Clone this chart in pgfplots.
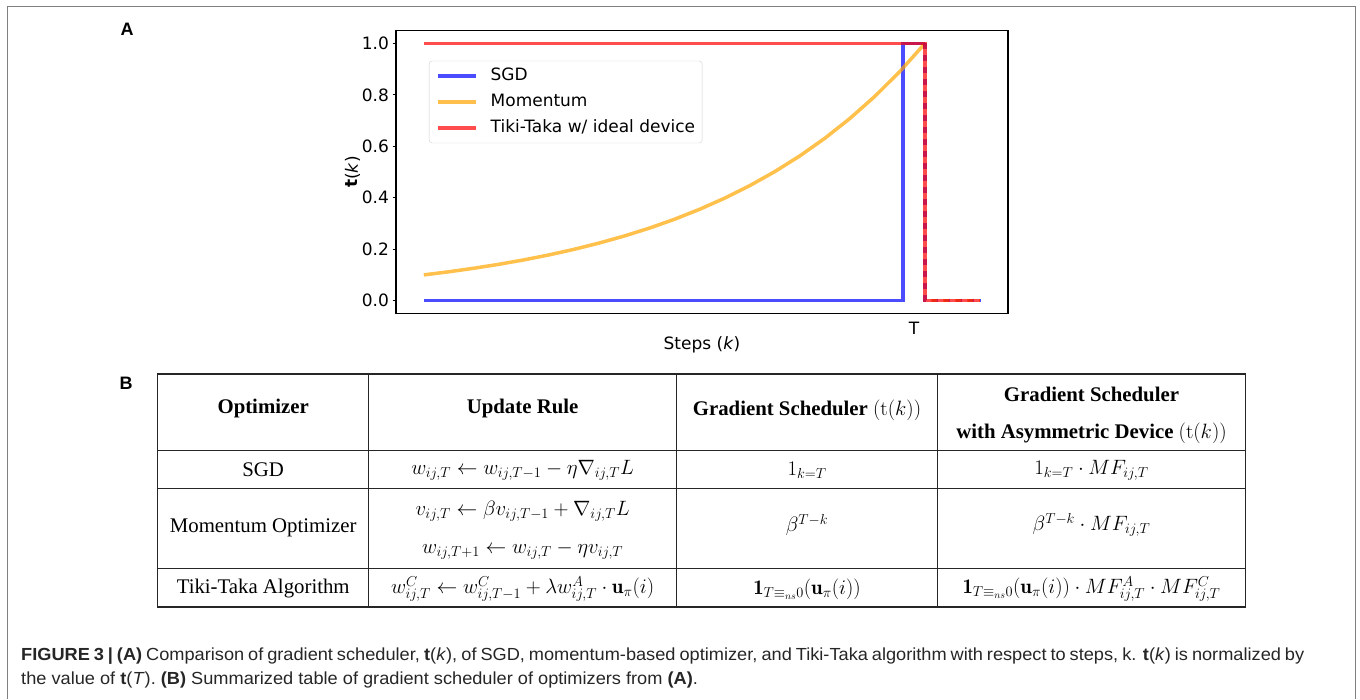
\documentclass[border=0pt]{standalone}
\usepackage{pgfplots}
\pgfplotsset{compat=1.18}
\usepackage{fontspec}
\newfontfamily\dejavu{DejaVu Sans}
\newfontfamily\tabfont{Liberation Serif}
\newfontfamily\capfont[FakeStretch=1.04]{Liberation Sans}
\newfontfamily\panelfont{Liberation Sans}

\definecolor{sgdblue}{RGB}{0,0,255}
\definecolor{momorange}{RGB}{255,165,0}
\definecolor{ttred}{RGB}{255,0,0}
\definecolor{framegray}{RGB}{128,128,128}

% beta^(T-k) with T = 100, normalised so that t(T) = 1
\pgfplotstableread{
k t
0 0.1000
5 0.1122
10 0.1259
15 0.1413
20 0.1585
25 0.1778
30 0.1995
35 0.2239
40 0.2512
45 0.2818
50 0.3162
55 0.3548
60 0.3981
65 0.4467
70 0.5012
75 0.5623
80 0.6310
85 0.7079
90 0.7943
95 0.8913
100 1.0000
}\momentum

\newcommand{\plotfont}{\dejavu\fontsize{17}{20}\selectfont}
\newcommand{\tabfs}{\tabfont\fontsize{20.8}{25}\selectfont}

\begin{document}
\begin{tikzpicture}
\path[use as bounding box] (0pt,0pt) rectangle (1360pt,699pt);

% open frame around the figure
\draw[framegray, line width=1.5pt] (7.7pt,0pt) -- (7.7pt,692.7pt) -- (1355.7pt,692.7pt) -- (1355.7pt,0pt);

% panel letters
\node[font=\panelfont\bfseries\fontsize{18}{20}\selectfont, inner sep=0pt] at (127pt,670pt) {A};
\node[font=\panelfont\bfseries\fontsize{18}{20}\selectfont, inner sep=0pt] at (126pt,316pt) {B};

\begin{axis}[
  at={(396pt,385.5pt)}, anchor=south west,
  scale only axis, width=612pt, height=283pt,
  xmin=-5.55, xmax=116.55, ymin=-0.05, ymax=1.05,
  xtick={97.8}, xticklabels={T},
  xtick style={draw=none},
  ytick={0,0.2,0.4,0.6,0.8,1.0},
  yticklabel style={/pgf/number format/fixed, /pgf/number format/precision=1, /pgf/number format/fixed zerofill},
  /pgf/number format/assume math mode=true,
  tick label style={font=\plotfont},
  xticklabel style={yshift=-2pt},
  tick align=outside, tick pos=left, major tick length=3.5pt,
  ytick style={line width=0.9pt, black},
  axis line style={line width=1.1pt},
  every axis y label/.style={at={(axis description cs:-0.071,0.5)}, rotate=90, anchor=center, font=\plotfont},
  every axis x label/.style={at={(axis description cs:0.5,-0.111)}, anchor=center, font=\plotfont},
  ylabel={{\bfseries t}(\textit{k})},
  xlabel={Steps (\textit{k})},
  legend cell align=left,
  legend image code/.code={\draw[#1, line width=3.5pt] (0pt,0pt) -- (38pt,0pt);},
  legend style={at={(axis description cs:0.0539,0.893)}, anchor=north west,
    draw=black!18, rounded corners=3pt, fill=white, font=\plotfont,
    inner xsep=7pt, inner ysep=7pt, row sep=10pt,
    nodes={inner sep=0pt, text height=12.5pt, text depth=3.5pt},
    /tikz/every odd column/.append style={column sep=13pt}},
]
% SGD: zero until just before T, then one
\addplot[sgdblue, opacity=0.7, line width=3.5pt] coordinates {(0,0) (95.6,0) (95.6,1) (100,1)};
\addlegendentry{SGD}
\addplot[momorange, opacity=0.7, line width=3.5pt] table[x=k, y=t] {\momentum};
\addlegendentry{Momentum}
% after T all schedulers vanish
\addplot[sgdblue, opacity=0.7, line width=3.5pt, dash pattern=on 6pt off 6pt, forget plot] coordinates {(100,1) (100,0) (111,0)};
\addplot[momorange, opacity=0.7, line width=3.5pt, dash pattern=on 6pt off 6pt, dash phase=6pt, forget plot] coordinates {(100,0) (111,0)};
\addplot[ttred, opacity=0.7, line width=3.5pt] coordinates {(0,1) (100,1) (100,0) (111,0)};
\addlegendentry{Tiki-Taka w/ ideal device}
\end{axis}

% ---- table B ----
\begin{scope}[x=1pt, y=1pt]
\draw[black!85, line width=1.3pt] (157.5,92) rectangle (1245.5,325);
\foreach \yy in {248,210.5,130} \draw[black!85, line width=1pt] (157.5,\yy) -- (1245.5,\yy);
\foreach \xx in {368.8,676.5,937.5} \draw[black!85, line width=1pt] (\xx,92) -- (\xx,325);

\tikzset{cell/.style={inner sep=0pt, anchor=center, font=\tabfs}}
% header
\node[cell] at (263.2,290) {\textbf{Optimizer}};
\node[cell] at (522.6,290) {\textbf{Update Rule}};
\node[cell] at (807,289) {\textbf{Gradient Scheduler} $\Bigl(\mathrm{t}(k)\Bigr)$};
\node[cell] at (1091.5,305) {\textbf{Gradient Scheduler}};
\node[cell] at (1091.5,266) {\textbf{with Asymmetric Device} $\Bigl(\mathrm{t}(k)\Bigr)$};
% SGD
\node[cell] at (263.2,229) {SGD};
\node[cell] at (522.6,229) {$w_{ij,T} \leftarrow w_{ij,T-1} - \eta\nabla_{ij,T}L$};
\node[cell] at (807,229) {$1_{k=T}$};
\node[cell] at (1091.5,229) {$1_{k=T}\cdot MF_{ij,T}$};
% Momentum
\node[cell] at (263.2,171) {Momentum Optimizer};
\node[cell] at (522.6,188) {$v_{ij,T} \leftarrow \beta v_{ij,T-1} + \nabla_{ij,T}L$};
\node[cell] at (522.6,149) {$w_{ij,T+1} \leftarrow w_{ij,T} - \eta v_{ij,T}$};
\node[cell] at (807,174) {$\beta^{T-k}$};
\node[cell] at (1091.5,174) {$\beta^{T-k}\cdot MF_{ij,T}$};
% Tiki-Taka
\node[cell] at (263.2,110) {Tiki-Taka Algorithm};
\node[cell] at (522.6,110) {$w^{C}_{ij,T} \leftarrow w^{C}_{ij,T-1} + \lambda w^{A}_{ij,T}\cdot\mathbf{u}_{\pi}(i)$};
\node[cell] at (807,110) {$\mathbf{1}_{T\equiv_{ns}0}(\mathbf{u}_{\pi}(i))$};
\node[cell] at (1091.5,110) {$\mathbf{1}_{T\equiv_{ns}0}(\mathbf{u}_{\pi}(i))\cdot MF^{A}_{ij,T}\cdot MF^{C}_{ij,T}$};

% ---- caption (first line set to the column width) ----
\tikzset{capline/.style={inner sep=0pt, anchor=base west, text=black!85, font=\capfont\fontsize{17.5}{21}\selectfont}}
\node[capline] at (21,39) {\makebox[1283pt][s]{\textbf{FIGURE 3 | (A)} Comparison of gradient scheduler, \textbf{t}(\textit{k}), of SGD, momentum-based optimizer, and Tiki-Taka algorithm with respect to steps, k. \textbf{t}(\textit{k}) is normalized by}};
\node[capline] at (21,15) {the value of \textbf{t}(\textit{T}). \textbf{(B)} Summarized table of gradient scheduler of optimizers from \textbf{(A)}.};
\end{scope}
\end{tikzpicture}
\end{document}
